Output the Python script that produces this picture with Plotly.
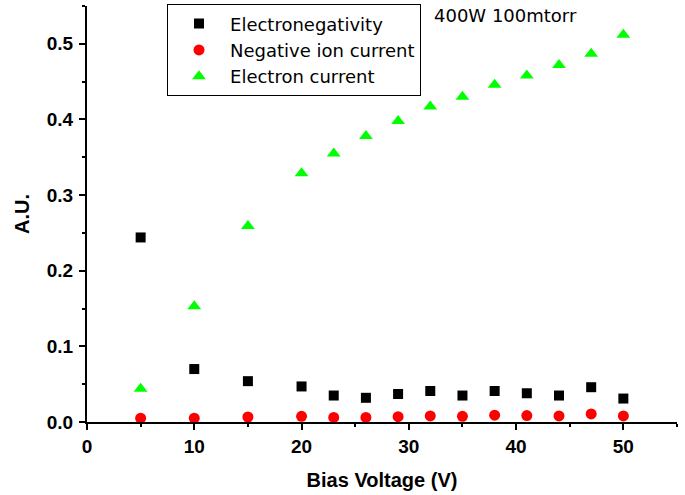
import plotly.graph_objects as go

bias_voltage = [5, 10, 15, 20, 23, 26, 29, 32, 35, 38, 41, 44, 47, 50]
electronegativity = [0.244, 0.070, 0.054, 0.047, 0.035, 0.032, 0.037, 0.041, 0.035, 0.041, 0.038, 0.035, 0.046, 0.031]
negative_ion_current = [0.005, 0.005, 0.0066, 0.0075, 0.006, 0.006, 0.007, 0.008, 0.0075, 0.009, 0.0085, 0.008, 0.0106, 0.008]
electron_current = [0.044, 0.153, 0.259, 0.329, 0.355, 0.378, 0.398, 0.417, 0.430, 0.446, 0.458, 0.472, 0.487, 0.512]

FONT = "Arial, 'Liberation Sans', sans-serif"
FONT_REG = "'DejaVu Sans', Arial, sans-serif"

fig = go.Figure()
fig.add_trace(go.Scatter(x=bias_voltage, y=electronegativity, mode="markers",
                         name="Electronegativity",
                         marker=dict(symbol="square", size=10, color="#000000")))
fig.add_trace(go.Scatter(x=bias_voltage, y=negative_ion_current, mode="markers",
                         name="Negative ion current",
                         marker=dict(symbol="circle", size=11, color="#ff0000")))
fig.add_trace(go.Scatter(x=bias_voltage, y=electron_current, mode="markers",
                         name="Electron current",
                         marker=dict(symbol="triangle-up", size=12, color="#00ff00")))

axis_common = dict(
    showline=True, linecolor="black", linewidth=2,
    showgrid=False, zeroline=False, automargin=False,
    ticks="outside", ticklen=6, tickwidth=2, tickcolor="black",
    tickfont=dict(family=FONT, size=19, color="black", weight="bold"),
)

fig.update_xaxes(range=[0, 55], dtick=10, tick0=0,
                 minor=dict(ticks="outside", ticklen=3, tickwidth=2, tickcolor="black", dtick=5, showgrid=False),
                 title=dict(text="Bias Voltage (V)", font=dict(family=FONT, size=20, color="black", weight="bold"), standoff=17),
                 **axis_common)
fig.update_yaxes(range=[0, 0.55], dtick=0.1, tick0=0, tickformat=".1f",
                 ticklabelstandoff=2,
                 minor=dict(ticks="outside", ticklen=3, tickwidth=2, tickcolor="black", dtick=0.05, showgrid=False),
                 title=dict(text="A.U.", font=dict(family=FONT, size=20, color="black", weight="bold"), standoff=12),
                 **axis_common)

fig.add_annotation(text="400W 100mtorr", xref="paper", yref="paper", x=0.585, y=0.977,
                   xanchor="left", yanchor="middle", showarrow=False,
                   font=dict(family=FONT_REG, size=18, color="black"))

fig.update_layout(
    width=685, height=495,
    margin=dict(l=87, r=8, t=6, b=73, autoexpand=False),
    plot_bgcolor="white", paper_bgcolor="white",
    legend=dict(x=0.1356, y=1.004, xanchor="left", yanchor="top",
                bgcolor="white", bordercolor="black", borderwidth=1,
                font=dict(family=FONT_REG, size=18, color="black"),
                itemwidth=52),
    showlegend=True,
)

fig.write_html("out.html", config={"displayModeBar": False},
               post_script="document.body.style.margin='0';document.body.style.overflow='hidden';")
